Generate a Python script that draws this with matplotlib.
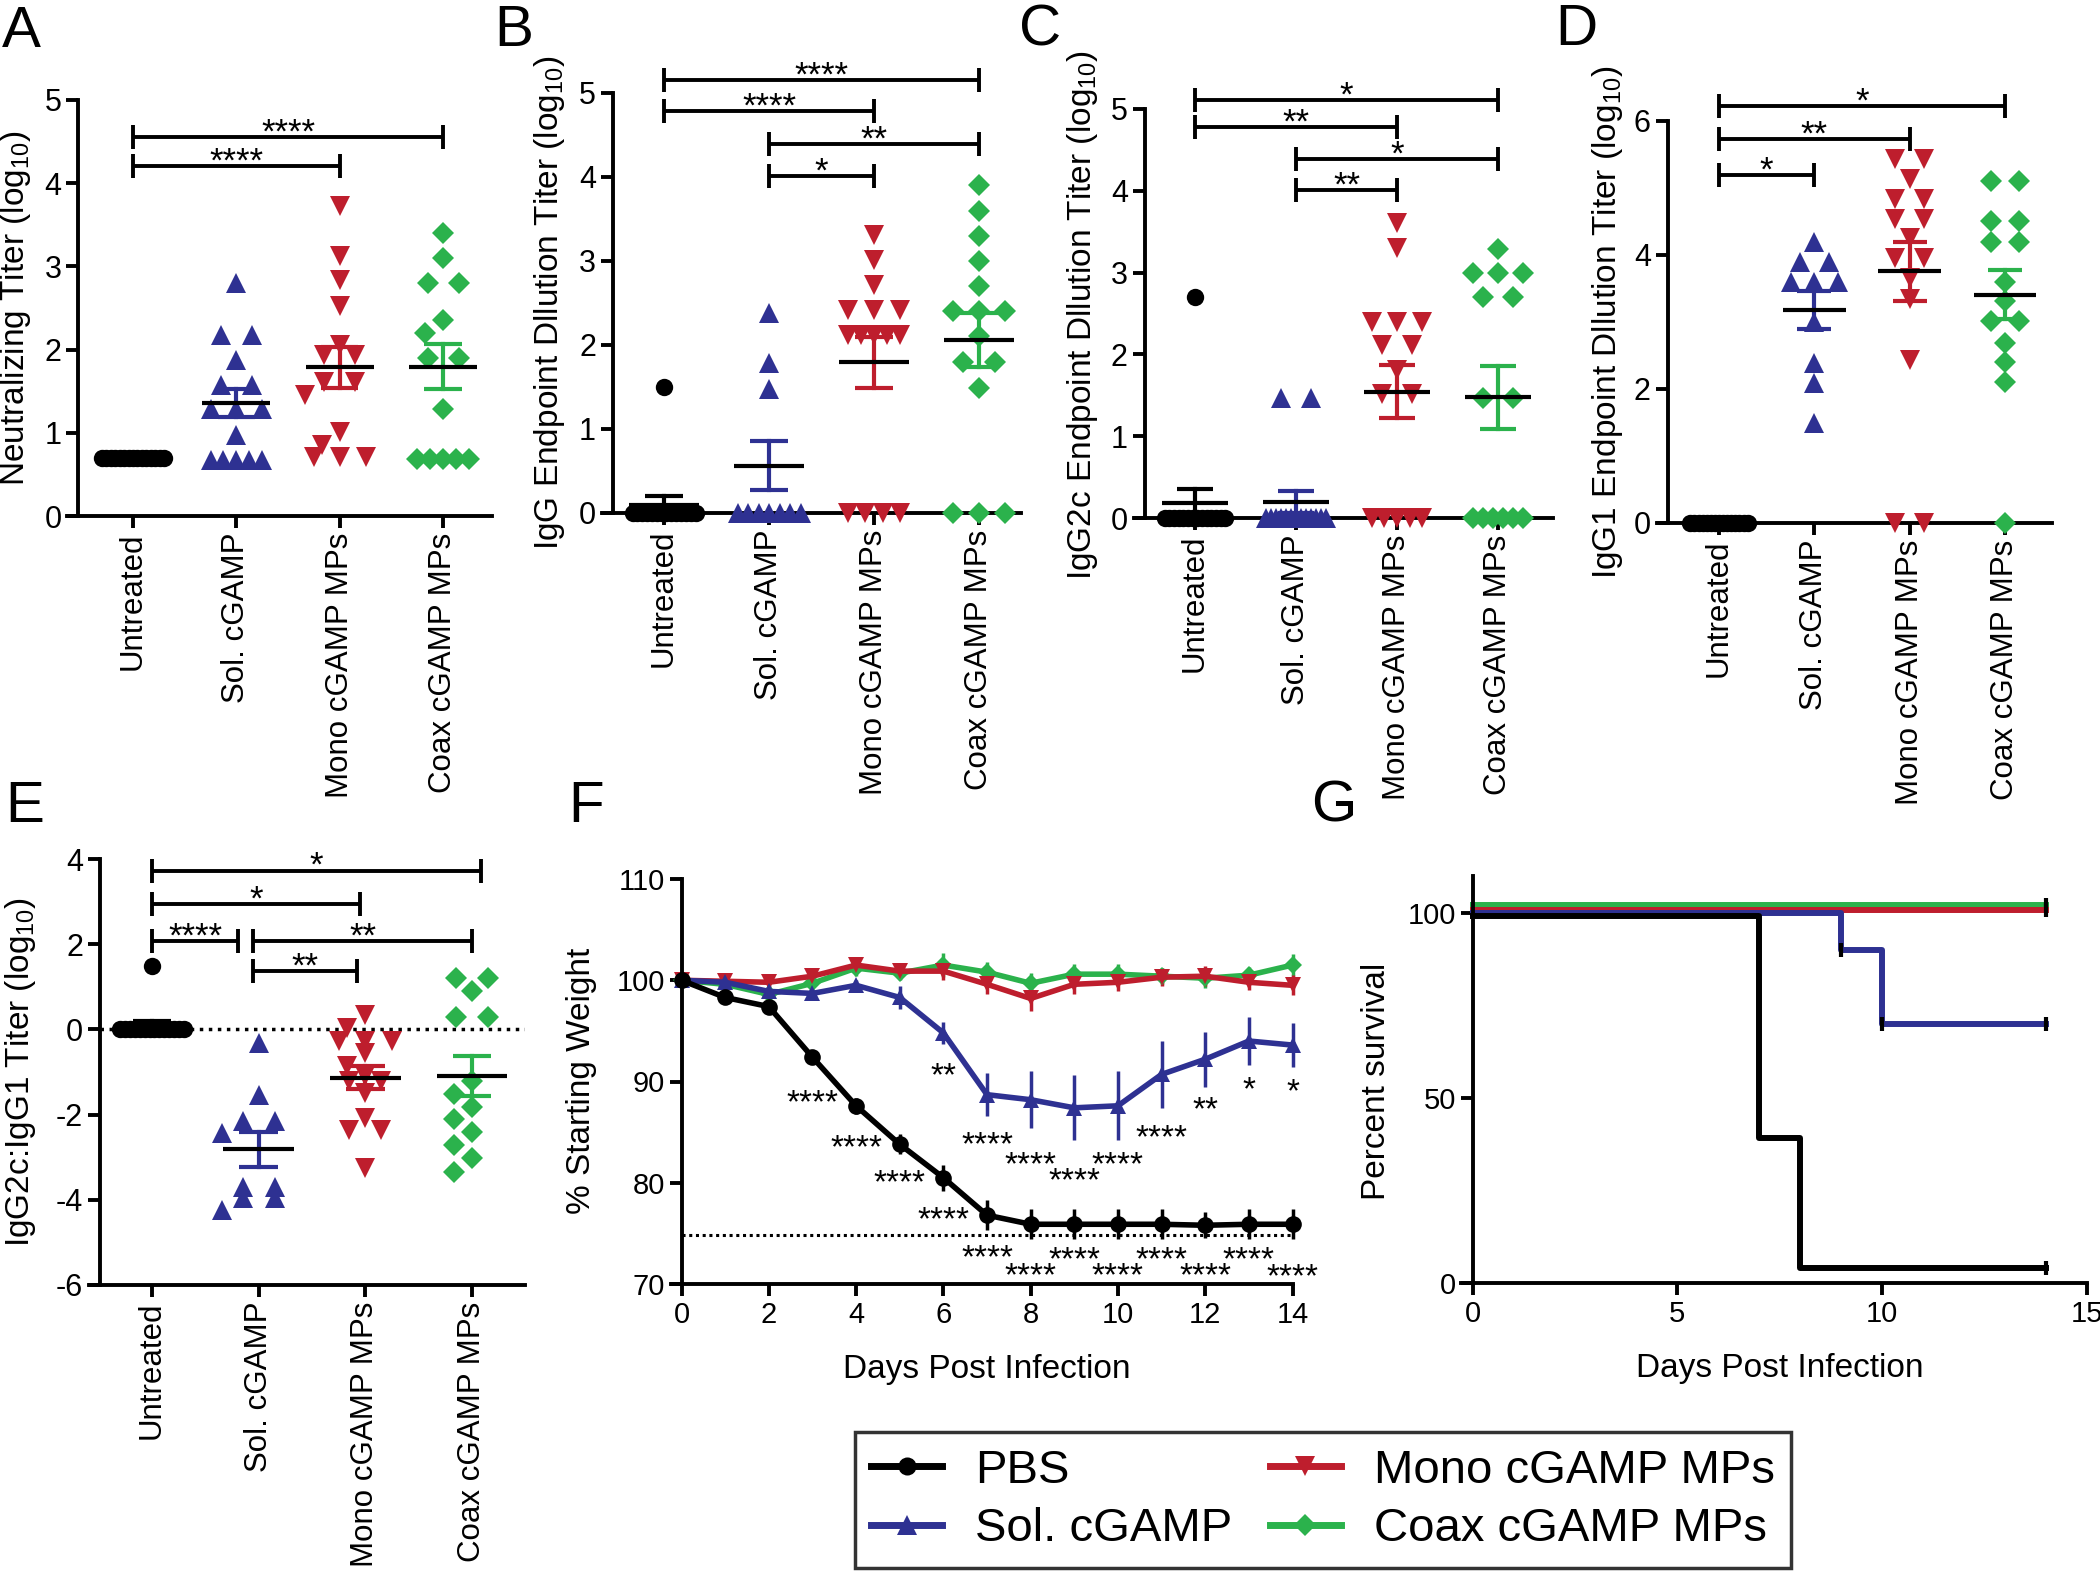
import numpy as np
import matplotlib
matplotlib.use("Agg")
import matplotlib.pyplot as plt
import matplotlib.transforms as mtransforms
from matplotlib.lines import Line2D

plt.rcParams['font.family'] = ['Liberation Sans', 'DejaVu Sans']
plt.rcParams['mathtext.fontset'] = 'custom'
plt.rcParams['mathtext.rm'] = 'Liberation Sans'
plt.rcParams['mathtext.it'] = 'Liberation Sans:italic'
plt.rcParams['axes.unicode_minus'] = False
plt.rcParams['axes.linewidth'] = 2.8
plt.rcParams['xtick.major.width'] = 2.8
plt.rcParams['ytick.major.width'] = 2.8
plt.rcParams['xtick.major.size'] = 8.5
plt.rcParams['ytick.major.size'] = 8.5
plt.rcParams['xtick.labelsize'] = 22
plt.rcParams['ytick.labelsize'] = 22

# ---------------- data ----------------
groups = ['Untreated', 'Sol. cGAMP', 'Mono cGAMP MPs', 'Coax cGAMP MPs']
legend_names = ['PBS', 'Sol. cGAMP', 'Mono cGAMP MPs', 'Coax cGAMP MPs']

# A: neutralizing titer (log10)
a_untreated = [0.7] * 15
a_sol = [2.8, 2.18, 2.18, 1.87, 1.57, 1.57, 1.29, 1.29, 1.29, 0.97, 0.67, 0.67, 0.67, 0.67, 0.67]
a_mono = [3.72, 3.12, 2.84, 2.52, 2.06, 1.94, 1.94, 1.61, 1.61, 1.45, 1.01, 0.85, 0.71, 0.71, 0.71]
a_coax = [3.40, 3.10, 2.80, 2.80, 2.36, 2.20, 1.90, 1.90, 1.29, 0.68, 0.68, 0.68, 0.68, 0.68]
a_sig = [(0, 3, 4.56, '****'), (0, 2, 4.21, '****')]

# B: IgG endpoint titer
b_untreated = [1.5] + [0.0] * 14
b_sol = [2.38, 1.78, 1.48] + [0.0] * 7
b_mono = [3.31, 3.01, 2.71, 2.42, 2.42, 2.42, 2.12, 2.12, 2.12, 2.12, 2.12, 0.0, 0.0, 0.0, 0.0]
b_coax = [3.9, 3.6, 3.3, 3.0, 2.7, 2.4, 2.4, 2.4, 2.11, 1.8, 1.8, 1.49, 0.0, 0.0, 0.0]
b_sig = [(0, 3, 5.15, '****'), (0, 2, 4.78, '****'), (1, 3, 4.39, '**'), (1, 2, 4.01, '*')]

# C: IgG2c endpoint titer
c_untreated = [2.7] + [0.0] * 14
c_sol = [1.47, 1.47] + [0.0] * 13
c_mono = [3.61, 3.30, 2.40, 2.40, 2.40, 2.12, 2.12, 1.81, 1.51, 1.51, 0.0, 0.0, 0.0, 0.0, 0.0]
c_coax = [3.29, 3.0, 3.0, 3.0, 2.7, 2.7, 1.47, 1.47] + [0.0] * 6
c_sig = [(0, 3, 5.11, '*'), (0, 2, 4.78, '**'), (1, 3, 4.39, '*'), (1, 2, 4.01, '**')]

# D: IgG1 endpoint titer
d_untreated = [0.0] * 15
d_sol = [4.2, 3.89, 3.89, 3.59, 3.59, 3.59, 3.0, 2.39, 2.09, 1.49]
d_mono = [5.44, 5.44, 5.14, 4.83, 4.83, 4.53, 4.53, 4.25, 3.95, 3.95, 3.65, 3.35, 2.44, 0.0, 0.0]
d_coax = [5.11, 5.11, 4.5, 4.5, 4.2, 4.2, 3.6, 3.31, 3.01, 3.01, 2.69, 2.4, 2.1, 0.0]
d_sig = [(0, 3, 6.22, '*'), (0, 2, 5.73, '**'), (0, 1, 5.20, '*')]

# E: IgG2c:IgG1 ratio
e_untreated = [1.48] + [0.0] * 14
e_sol = [-0.32, -1.54, -2.16, -2.16, -2.44, -3.69, -3.69, -3.96, -3.96, -4.24]
e_mono = [0.34, 0.03, -0.28, -0.28, -0.28, -0.56, -0.87, -1.1, -1.22, -1.22, -1.5, -2.08, -2.36, -2.36, -3.26]
e_coax = [1.2, 1.2, 0.89, 0.3, 0.3, -1.22, -1.51, -1.81, -2.11, -2.42, -2.71, -3.02, -3.34]
e_sig = [(0, 3.08, 3.73, '*'), (0, 1.95, 2.95, '*'), (0, 0.81, 2.07, '****'),
         (0.95, 3.0, 2.07, '**'), (0.95, 1.92, 1.38, '**')]

# F: weight curves
days = list(range(15))
pbs_mean = [100, 98.3, 97.4, 92.4, 87.6, 83.8, 80.5, 76.8, 75.9, 75.9, 75.9, 75.9, 75.8, 75.9, 75.9]
pbs_sem = [0.2, 0.3, 0.3, 0.4, 0.8, 1.0, 1.3, 1.5, 1.5, 1.5, 1.5, 1.5, 1.3, 1.5, 1.5]
sol_mean = [100, 99.8, 98.9, 98.7, 99.5, 98.3, 94.8, 88.7, 88.2, 87.4, 87.6, 90.7, 92.2, 94.0, 93.6]
sol_sem = [0.2, 0.4, 0.6, 0.5, 0.5, 1.1, 1.1, 2.1, 2.8, 3.2, 3.4, 3.3, 2.7, 2.4, 2.2]
mono_mean = [100, 99.9, 99.8, 100.4, 101.5, 100.9, 100.9, 99.6, 98.2, 99.6, 99.8, 100.3, 100.4, 99.8, 99.5]
mono_sem = [0.2, 0.5, 0.7, 0.8, 0.7, 0.8, 0.9, 1.0, 1.2, 1.0, 0.9, 0.9, 1.0, 0.8, 1.0]
coax_mean = [100, 99.6, 98.6, 99.7, 101.2, 100.7, 101.5, 100.8, 99.7, 100.6, 100.6, 100.4, 100.2, 100.5, 101.5]
coax_sem = [0.2, 0.5, 0.7, 0.8, 0.8, 0.7, 1.2, 1.0, 1.0, 1.0, 1.0, 0.8, 1.0, 0.8, 1.1]
weight_limit = 74.8
pbs_star_days = [3, 4, 5, 6, 7, 8, 9, 10, 11, 12, 13, 14]
pbs_star_labels = ['****'] * 12
sol_star_days = [6, 7, 8, 9, 10, 11, 12, 13, 14]
sol_star_labels = ['**', '****', '****', '****', '****', '****', '**', '*', '*']

# G: survival
pbs_t, pbs_surv = [0, 7, 8, 14], [100, 40, 5, 5]
sol_t, sol_surv = [0, 9, 10, 14], [100, 90, 70, 70]
mono_t, mono_surv = [0, 14], [100, 100]
coax_t, coax_surv = [0, 14], [100, 100]
sol_censor_t, sol_censor_s = [9, 10], [90, 70]

# ---------------- style / layout ----------------
BLACK, BLUE, RED, GREEN = '#000000', '#2e3192', '#be1e2d', '#2bb24c'
colors = [BLACK, BLUE, RED, GREEN]
markers = ['o', '^', 'v', 'D']
msizes = [12.5, 15, 15, 11.5]

# star text rows (y of the asterisk centres) in panel F
pbs_star_y = [88.9, 84.4, 81.0, 77.3, 73.6, 71.8, 73.4, 71.8, 73.4, 71.8, 73.4, 71.7]
sol_star_y = [91.5, 84.7, 82.8, 81.2, 82.8, 85.4, 88.2, 90.2, 90.0]

W, H = 2100, 1580
fig = plt.figure(figsize=(W / 100, H / 100), dpi=100)


def place(xlim, xref, ylim, yref):
    (xa, pa), (xb, pb) = xref
    sx = (pb - pa) / (xb - xa)
    left = pa + (xlim[0] - xa) * sx
    right = pa + (xlim[1] - xa) * sx
    (ya, qa), (yb, qb) = yref
    sy = (qb - qa) / (yb - ya)
    bottom = qa + (ylim[0] - ya) * sy
    top = qa + (ylim[1] - ya) * sy
    ax = fig.add_axes([left / W, 1 - bottom / H, (right - left) / W, (bottom - top) / H])
    ax.set_xlim(xlim)
    ax.set_ylim(ylim)
    for s in ['top', 'right']:
        ax.spines[s].set_visible(False)
    # GraphPad style: x axis line runs a tick length past the y axis
    x0 = ax.transData.inverted().transform(ax.transData.transform((xlim[0], ylim[0])) - [11, 0])[0]
    ax.spines['bottom'].set_bounds(x0, xlim[1])
    return ax


def ylabel_at(ax, text, px, py):
    ax.set_ylabel(text, fontsize=24)
    x, y = ax.transAxes.inverted().transform((px, H - py))
    ax.yaxis.set_label_coords(x, y)


def swarm(ax, vals, center, row_step=0.3, single_step=0.17, dmin=16):
    vals = np.asarray(vals, float)
    xs = np.full(len(vals), float(center))
    placed = []
    for u in sorted(set(np.round(vals, 3)), reverse=True):
        idx = np.where(np.isclose(vals, u, atol=1e-3))[0]
        n = len(idx)
        if n == 1:
            chosen = center
            for k in [0, -1, 1, -2, 2]:
                x = center + k * single_step
                p = ax.transData.transform((x, u))
                if all(abs(p[0] - q[0]) >= dmin or abs(p[1] - q[1]) >= dmin for q in placed):
                    chosen = x
                    break
            xs[idx[0]] = chosen
            placed.append(ax.transData.transform((chosen, u)))
        else:
            w = 0.5 if n <= 6 else 0.6
            s = min(row_step, w / (n - 1))
            offs = (np.arange(n) - (n - 1) / 2) * s
            for j, i in enumerate(idx):
                xs[i] = center + offs[j]
                placed.append(ax.transData.transform((xs[i], u)))
    return xs


def dot_panel(ax, data, sig, yticks, ybounds):
    for i, vals in enumerate(data):
        xs = swarm(ax, vals, i)
        ax.plot(xs, vals, ls='none', marker=markers[i], ms=msizes[i], color=colors[i],
                mec=colors[i], mew=0, clip_on=False, zorder=3)
        m = np.mean(vals)
        s = np.std(vals, ddof=1) / np.sqrt(len(vals))
        if s > 0:
            ax.plot([i, i], [m - s, m + s], color=colors[i], lw=3, zorder=4)
            for yy in (m - s, m + s):
                ax.plot([i - 0.18, i + 0.18], [yy, yy], color=colors[i], lw=3, zorder=4,
                        solid_capstyle='butt')
        ax.plot([i - 0.33, i + 0.33], [m, m], color='k', lw=3, zorder=5, solid_capstyle='butt')
    for x1, x2, y, lab in sig:
        ax.plot([x1, x2], [y, y], color='k', lw=2.8, clip_on=False, solid_capstyle='butt')
        ax.plot([x1, x2], [y, y], ls='none', marker='|', ms=17, mew=2.8, color='k', clip_on=False)
        ax.annotate(lab, ((x1 + x2) / 2, y), xytext=(0, -4), textcoords='offset points',
                    ha='center', va='baseline', fontsize=25)
    ax.set_yticks(yticks)
    ax.spines['left'].set_bounds(*ybounds)
    ax.set_xticks(range(4))
    ax.set_xticklabels(groups, rotation=90, ha='center', va='top', fontsize=22.5)


# ---------------- panels A-E ----------------
axA = place((-0.53, 3.47), ((0, 133), (3, 443)), (0, 5), ((0, 516), (5, 100)))
dot_panel(axA, [a_untreated, a_sol, a_mono, a_coax], a_sig, range(6), (0, 5))
ylabel_at(axA, 'Neutralizing Titer (log$_{10}$)', 33, 308)

axB = place((-0.49, 3.4), ((0, 664), (3, 979)), (0, 5.6), ((0, 513), (5, 93)))
dot_panel(axB, [b_untreated, b_sol, b_mono, b_coax], b_sig, range(6), (0, 5))
ylabel_at(axB, 'IgG Endpoint Dllution Titer (log$_{10}$)', 567, 303)

axC = place((-0.5, 3.54), ((0, 1195), (3, 1498)), (0, 5.5), ((0, 518), (5, 109)))
dot_panel(axC, [c_untreated, c_sol, c_mono, c_coax], c_sig, range(6), (0, 5))
ylabel_at(axC, 'IgG2c Endpoint Dllution Titer (log$_{10}$)', 1100, 315)

axD = place((-0.54, 3.49), ((0, 1719), (3, 2005)), (0, 6.6), ((0, 523), (6, 121)))
dot_panel(axD, [d_untreated, d_sol, d_mono, d_coax], d_sig, [0, 2, 4, 6], (0, 6))
ylabel_at(axD, 'IgG1 Endpoint Dllution Titer (log$_{10}$)', 1625, 322)

axE = place((-0.49, 3.5), ((0, 152), (3, 472)), (-6, 4.3), ((-6, 1285), (4, 859)))
axE.axhline(0, color='k', ls=(0, (1, 1.6)), lw=2.5, zorder=1)
dot_panel(axE, [e_untreated, e_sol, e_mono, e_coax], e_sig, [-6, -4, -2, 0, 2, 4], (-6, 4))
ylabel_at(axE, 'IgG2c:IgG1 Titer (log$_{10}$)', 38, 1072)

# ---------------- panel F ----------------
axF = place((0, 14), ((0, 681.5), (14, 1292.5)), (70, 110), ((70, 1284), (110, 879)))
axF.plot([0, 14], [weight_limit, weight_limit], color='k', ls=(0, (1, 1.2)), lw=2.2, zorder=1)
f_series = [(coax_mean, coax_sem, GREEN, 'D', 9.5), (mono_mean, mono_sem, RED, 'v', 12),
            (sol_mean, sol_sem, BLUE, '^', 12), (pbs_mean, pbs_sem, BLACK, 'o', 12)]
for mean, sem, c, mk, ms in f_series:
    axF.errorbar(days, mean, yerr=sem, color=c, marker=mk, ms=ms, mew=0, lw=4,
                 elinewidth=2.5, capsize=6, capthick=2.5, clip_on=False)
for d, lab, ys in zip(pbs_star_days, pbs_star_labels, pbs_star_y):
    axF.annotate(lab, (d, ys), xytext=(0, -14), textcoords='offset points',
                 ha='center', va='baseline', fontsize=24)
for d, lab, ys in zip(sol_star_days, sol_star_labels, sol_star_y):
    axF.annotate(lab, (d, ys), xytext=(0, -14), textcoords='offset points',
                 ha='center', va='baseline', fontsize=24)
axF.set_xticks(range(0, 15, 2))
axF.set_yticks([70, 80, 90, 100, 110])
axF.tick_params(labelsize=21)
axF.set_xlabel('Days Post Infection', fontsize=24, labelpad=18)
ylabel_at(axF, '% Starting Weight', 597, 1081)

# ---------------- panel G ----------------
axG = place((0, 15), ((0, 1472.5), (15, 2086.5)), (0, 110), ((0, 1283), (100, 913)))
g_series = [(coax_t, coax_surv, GREEN, 5.8), (mono_t, mono_surv, RED, 2.4),
            (sol_t, sol_surv, BLUE, 0.0), (pbs_t, pbs_surv, BLACK, -2.4)]
for t, s, c, dy in g_series:
    tr = axG.transData + mtransforms.ScaledTranslation(0, dy / 72, fig.dpi_scale_trans)
    axG.plot(t, s, drawstyle='steps-post', color=c, lw=4.3, transform=tr, clip_on=False)
    axG.plot([t[-1]], [s[-1]], ls='none', marker='|', ms=10, mew=3, color='k',
             transform=tr, clip_on=False)
axG.plot(sol_censor_t, sol_censor_s, ls='none', marker='|', ms=10, mew=3, color='k', clip_on=False)
axG.set_xticks([0, 5, 10, 15])
axG.set_yticks([0, 50, 100])
axG.tick_params(labelsize=21)
axG.set_xlabel('Days Post Infection', fontsize=24, labelpad=18)
ylabel_at(axG, 'Percent survival', 1392, 1081)

# ---------------- legend ----------------
handles = [Line2D([], [], color=c, marker=m, ms=ms, mew=0, lw=5)
           for c, m, ms in zip(colors, markers, [13, 14, 14, 11])]
leg = fig.legend(handles, legend_names, ncol=2, loc='center',
                 bbox_to_anchor=(1323 / W, 1 - 1500 / H), fontsize=34, frameon=True,
                 fancybox=False, edgecolor='k', handlelength=1.5, handletextpad=0.7,
                 columnspacing=0.8, borderpad=0.35, labelspacing=0.3, borderaxespad=0)
leg.get_frame().set_linewidth(2.5)

# ---------------- panel letters ----------------
for lab, px, py in [('A', 2, 47), ('B', 494, 46), ('C', 1019, 46), ('D', 1555, 45),
                    ('E', 5, 822), ('F', 568, 822), ('G', 1311, 822)]:
    fig.text(px / W, 1 - py / H, lab, fontsize=42, ha='left', va='baseline')

fig.savefig('out.png', dpi=100)
